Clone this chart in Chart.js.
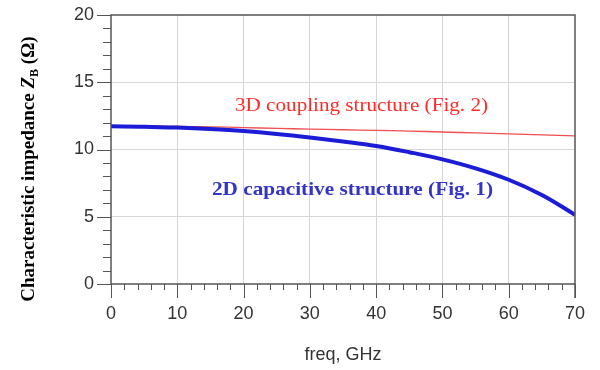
<!DOCTYPE html>
<html><head><meta charset="utf-8">
<script src="https://cdn.jsdelivr.net/npm/chart.js@4.4.1/dist/chart.umd.min.js"></script>
<style>html,body{margin:0;padding:0;background:#fff}#wrap{width:600px;height:370px}</style>
</head><body><div id="wrap"><canvas id="c" width="600" height="370"></canvas></div>
<script>
const freqs = [0,5,10,15,20,25,30,35,40,45,50,55,60,65,70];
const zb2D = [11.72,11.70,11.63,11.52,11.37,11.16,10.90,10.60,10.26,9.80,9.27,8.60,7.75,6.62,5.15];
const zb3D = [11.75,11.74,11.72,11.68,11.63,11.57,11.52,11.47,11.42,11.37,11.30,11.23,11.16,11.09,11.02];
const yTickLabels = [0,5,10,15,20];
const xTickLabels = [0,10,20,30,40,50,60,70];
const label2D = '2D capacitive structure (Fig. 1)';
const label3D = '3D coupling structure (Fig. 2)';

const AXIS = '#555';
const GRID = '#d6d6d6';

const decor = {
  id: 'decor',
  afterDraw(chart) {
    const ctx = chart.ctx, a = chart.chartArea;
    const xs = chart.scales.x, ys = chart.scales.y;
    ctx.save();
    ctx.strokeStyle = AXIS; ctx.lineWidth = 1.5;
    ctx.beginPath();
    ctx.moveTo(a.left, a.bottom); ctx.lineTo(a.left, a.top); ctx.lineTo(a.right, a.top); ctx.lineTo(a.right, a.bottom + 14);
    ctx.moveTo(a.left, a.bottom); ctx.lineTo(a.right, a.bottom);
    ctx.stroke();
    ctx.lineWidth = 1;
    for (let v = 0; v <= 20; v++) {
      const y = Math.round(ys.getPixelForValue(v)) + 0.5;
      const len = yTickLabels.includes(v) ? 14 : 8;
      ctx.beginPath(); ctx.moveTo(a.left - len, y); ctx.lineTo(a.left, y); ctx.stroke();
    }
    for (let v = 0; v <= 70; v += 2) {
      const x = Math.round(xs.getPixelForValue(v)) + 0.5;
      const len = xTickLabels.includes(v) ? 14 : 6;
      ctx.beginPath(); ctx.moveTo(x, a.bottom); ctx.lineTo(x, a.bottom + len); ctx.stroke();
    }
    function fitText(txt, font, color, x0, x1, baseline) {
      ctx.font = font; ctx.fillStyle = color; ctx.textBaseline = 'alphabetic'; ctx.textAlign = 'left';
      const w = ctx.measureText(txt).width;
      ctx.save(); ctx.translate(x0, baseline); ctx.scale((x1 - x0) / w, 1);
      ctx.fillText(txt, 0, 0); ctx.restore();
    }
    fitText(label3D, '19px "Liberation Serif", "Times New Roman", serif', '#ff2a2a', 235, 488, 111);
    fitText(label2D, 'bold 19px "Liberation Serif", "Times New Roman", serif', '#3434c8', 212, 493, 195);
    ctx.save();
    ctx.translate(34, 169);
    ctx.rotate(-Math.PI / 2);
    ctx.fillStyle = '#000'; ctx.textBaseline = 'alphabetic';
    const parts = [
      ['Characteristic impedance ', 'bold 19px "Liberation Serif", serif', 0],
      ['Z', 'italic bold 19px "Liberation Serif", serif', 0],
      ['B', 'bold 12px "Liberation Serif", serif', 4],
      [' (\u03A9)', 'bold 19px "Liberation Serif", serif', 0]
    ];
    let total = 0;
    parts.forEach(p => { ctx.font = p[1]; total += ctx.measureText(p[0]).width; });
    let xx = -total / 2;
    parts.forEach(p => { ctx.font = p[1]; ctx.fillText(p[0], xx, p[2]); xx += ctx.measureText(p[0]).width; });
    ctx.restore();
    ctx.restore();
  }
};

new Chart(document.getElementById('c'), {
  type: 'line',
  data: {
    datasets: [
      { label: label2D, data: freqs.map((f, i) => ({x: f, y: zb2D[i]})), borderColor: '#1c1cd6', borderWidth: 4, pointRadius: 0, tension: 0.4, fill: false },
      { label: label3D, data: freqs.map((f, i) => ({x: f, y: zb3D[i]})), borderColor: '#f05050', borderWidth: 1.3, pointRadius: 0, tension: 0.4, fill: false }
    ]
  },
  options: {
    responsive: false, animation: false,
    layout: { padding: { top: 15, right: 25, left: 0, bottom: 0 } },
    plugins: { legend: { display: false }, tooltip: { enabled: false } },
    scales: {
      x: {
        type: 'linear', min: 0, max: 70,
        afterFit(s) { s.height = 86; s.paddingLeft = 0; s.paddingRight = 0; },
        border: { display: false },
        grid: { drawTicks: false, color: c => (c.tick && c.tick.value % 10 === 0 && c.tick.value > 0 && c.tick.value < 70) ? GRID : 'transparent' },
        ticks: { stepSize: 2, autoSkip: false, maxRotation: 0, padding: 19, color: '#333',
          font: { family: '"Liberation Sans", Arial, sans-serif', size: 18 },
          callback: v => xTickLabels.includes(v) ? String(v) : '' },
        title: { display: true, text: 'freq, GHz', color: '#333', padding: { top: 0, bottom: 4 },
          font: { family: '"Liberation Sans", Arial, sans-serif', size: 18 } }
      },
      y: {
        min: 0, max: 20,
        afterFit(s) { s.width = 111; s.paddingTop = 0; s.paddingBottom = 0; },
        border: { display: false },
        grid: { drawTicks: false, color: c => (c.tick && c.tick.value % 5 === 0 && c.tick.value > 0 && c.tick.value < 20) ? GRID : 'transparent' },
        ticks: { stepSize: 1, autoSkip: false, padding: 17, color: '#333',
          font: { family: '"Liberation Sans", Arial, sans-serif', size: 18 },
          callback: v => yTickLabels.includes(v) ? String(v) : '' }
      }
    }
  },
  plugins: [decor]
});
</script></body></html>
